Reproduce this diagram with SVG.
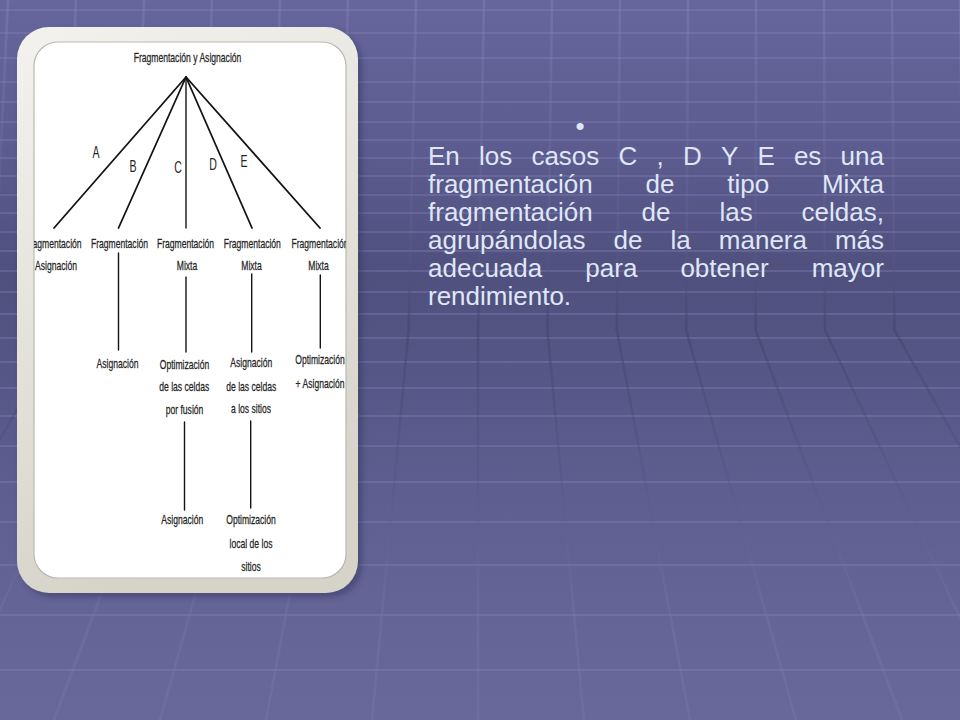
<svg xmlns="http://www.w3.org/2000/svg" width="960" height="720" viewBox="0 0 960 720">
<style>
.hl{stroke:#8a8ac2;stroke-opacity:0.3;stroke-width:2;fill:none}
.vl{stroke:url(#vg);stroke-width:2.6;fill:none}
.dg{font-family:"Liberation Sans",Arial,sans-serif;font-size:13px;fill:#242424;stroke:#242424;stroke-width:0.25;text-anchor:middle}
.lt{font-family:"Liberation Sans",Arial,sans-serif;font-size:16px;fill:#242424;text-anchor:middle}
.ed{stroke:#141414;fill:none;stroke-linecap:round}
.dia{stroke-width:1.8}
.ver{stroke-width:1.4}
.body{font-family:"Liberation Sans",Arial,sans-serif;font-size:26px;fill:#dfe7f7}
</style>
<defs>
<linearGradient id="bg" x1="0" y1="0" x2="0" y2="1">
<stop offset="0" stop-color="#66669d"/>
<stop offset="0.2" stop-color="#5c5c90"/>
<stop offset="0.38" stop-color="#50507e"/>
<stop offset="0.55" stop-color="#585888"/>
<stop offset="0.8" stop-color="#636396"/>
<stop offset="1" stop-color="#68689a"/>
</linearGradient>
<linearGradient id="vg" gradientUnits="userSpaceOnUse" x1="0" y1="0" x2="0" y2="720">
<stop offset="0" stop-color="#8686bd" stop-opacity="0.4"/>
<stop offset="0.3" stop-color="#6a6a9e" stop-opacity="0.25"/>
<stop offset="0.45" stop-color="#3e3e68" stop-opacity="0.45"/>
<stop offset="0.65" stop-color="#4e4e80" stop-opacity="0.3"/>
<stop offset="0.85" stop-color="#7a7ab0" stop-opacity="0.3"/>
<stop offset="1" stop-color="#7a7ab0" stop-opacity="0.35"/>
</linearGradient>
<linearGradient id="fg" x1="0" y1="0" x2="0.3" y2="1">
<stop offset="0" stop-color="#f3f2ee"/>
<stop offset="1" stop-color="#d6d4c9"/>
</linearGradient>
<filter id="sh" x="-10%" y="-10%" width="120%" height="120%">
<feGaussianBlur stdDeviation="3"/>
</filter>
<clipPath id="clip">
<rect x="34" y="42" width="312" height="536" rx="24"/>
</clipPath>
</defs>

<rect width="960" height="720" fill="url(#bg)"/>
<g id="grid">
<path class="hl" d="M0 10H960M0 33H960M0 58H960M0 82H960M0 102H960M0 122H960M0 140H960M0 158H960M0 176H960M0 195H960M0 213H960M0 232H960M0 251H960M0 271H960M0 292H960M0 314H960M0 338H960M0 362H960M0 388H960M0 416H960M0 446H960M0 482H960M0 522H960M0 565H960M0 615H960M0 670H960"/>
<path class="vl" d="M8 0L-7.8 330L-264 720M76 0L61.6 330L-158 720M144 0L131 330L-52 720M212 0L200.4 330L54 720M280 0L269.8 330L160 720M348 0L339.2 330L266 720M416 0L408.6 330L372 720M484 0L478 330L478 720M552 0L547.4 330L584 720M620 0L616.8 330L690 720M688 0L686.2 330L796 720M756 0L755.6 330L902 720M824 0L825 330L1008 720M892 0L894.4 330L1114 720M960 0L963.8 330L1220 720"/>
</g>

<g id="frame">
<rect x="21" y="31" width="341" height="566" rx="32" fill="#2e2e55" opacity="0.45" filter="url(#sh)"/>
<rect x="17" y="27" width="341" height="566" rx="32" fill="url(#fg)"/>
<rect x="34" y="42" width="312" height="536" rx="24" fill="#ffffff" stroke="#b9b9b2" stroke-width="1.2"/>
</g>

<g id="diagram" clip-path="url(#clip)">
<g id="connectors">
<path class="ed dia" d="M186 77L54 228"/>
<path class="ed dia" d="M186 77L118.5 228"/>
<path class="ed ver" d="M186 77L186 228"/>
<path class="ed dia" d="M186 77L252 228"/>
<path class="ed dia" d="M186 77L320 228"/>
<path class="ed ver" d="M118.5 253V350"/>
<path class="ed ver" d="M186 277V352"/>
<path class="ed ver" d="M251.7 274V352"/>
<path class="ed ver" d="M320.3 275V348"/>
<path class="ed ver" d="M184.5 422V510"/>
<path class="ed ver" d="M250.7 421V508"/>
</g>
<g id="root"><text class="dg" transform="translate(187.5,62) scale(0.66,1)">Fragmentación y Asignación</text></g>
<g id="edge-labels">
<text class="lt" transform="translate(96,158) scale(0.66,1)">A</text>
<text class="lt" transform="translate(133,172) scale(0.66,1)">B</text>
<text class="lt" transform="translate(178,173) scale(0.66,1)">C</text>
<text class="lt" transform="translate(213,170) scale(0.66,1)">D</text>
<text class="lt" transform="translate(244,167) scale(0.66,1)">E</text>
</g>
<g id="nA">
<text class="dg" transform="translate(53,248) scale(0.66,1)">Fragmentación</text>
<text class="dg" transform="translate(52.6,270) scale(0.66,1)">+ Asignación</text>
</g>
<g id="nB">
<text class="dg" transform="translate(119.5,248) scale(0.66,1)">Fragmentación</text>
</g>
<g id="nC">
<text class="dg" transform="translate(185.5,248) scale(0.66,1)">Fragmentación</text>
<text class="dg" transform="translate(187,270) scale(0.66,1)">Mixta</text>
</g>
<g id="nD">
<text class="dg" transform="translate(252.3,248) scale(0.66,1)">Fragmentación</text>
<text class="dg" transform="translate(251.5,270) scale(0.66,1)">Mixta</text>
</g>
<g id="nE">
<text class="dg" transform="translate(320,248) scale(0.66,1)">Fragmentación</text>
<text class="dg" transform="translate(318.5,270) scale(0.66,1)">Mixta</text>
</g>
<g id="nB2">
<text class="dg" transform="translate(117.5,368) scale(0.66,1)">Asignación</text>
</g>
<g id="nC2">
<text class="dg" transform="translate(184.5,369) scale(0.66,1)">Optimización</text>
<text class="dg" transform="translate(184.3,391) scale(0.66,1)">de las celdas</text>
<text class="dg" transform="translate(184.5,414) scale(0.66,1)">por fusión</text>
</g>
<g id="nD2">
<text class="dg" transform="translate(251.2,367) scale(0.66,1)">Asignación</text>
<text class="dg" transform="translate(251.3,391) scale(0.66,1)">de las celdas</text>
<text class="dg" transform="translate(251,413) scale(0.66,1)">a los sitios</text>
</g>
<g id="nE2">
<text class="dg" transform="translate(320,364) scale(0.66,1)">Optimización</text>
<text class="dg" transform="translate(320,388) scale(0.66,1)">+ Asignación</text>
</g>
<g id="nC3">
<text class="dg" transform="translate(182.3,524) scale(0.66,1)">Asignación</text>
</g>
<g id="nD3">
<text class="dg" transform="translate(251,524) scale(0.66,1)">Optimización</text>
<text class="dg" transform="translate(251,548) scale(0.66,1)">local de los</text>
<text class="dg" transform="translate(251,571) scale(0.66,1)">sitios</text>
</g>
</g>

<g id="text-block">
<text class="body" x="580" y="135" text-anchor="middle" font-size="24">•</text>
<text class="body" y="165"><tspan x="428">En</tspan><tspan x="479">los</tspan><tspan x="531.4">casos</tspan><tspan x="618.5">C</tspan><tspan x="656.5">,</tspan><tspan x="682.9">D</tspan><tspan x="720.9">Y</tspan><tspan x="757.4">E</tspan><tspan x="793.9">es</tspan><tspan x="840.6">una</tspan></text>
<text class="body" y="193"><tspan x="428">fragmentación</tspan><tspan x="645.5">de</tspan><tspan x="727.2">tipo</tspan><tspan x="821.9">Mixta</tspan></text>
<text class="body" y="221"><tspan x="428">fragmentación</tspan><tspan x="641.6">de</tspan><tspan x="719.4">las</tspan><tspan x="801.5">celdas,</tspan></text>
<text class="body" y="249"><tspan x="428">agrupándolas</tspan><tspan x="613.6">de</tspan><tspan x="670.5">la</tspan><tspan x="718.8">manera</tspan><tspan x="834.9">más</tspan></text>
<text class="body" y="277"><tspan x="428">adecuada</tspan><tspan x="585.3">para</tspan><tspan x="680.4">obtener</tspan><tspan x="811.7">mayor</tspan></text>
<text class="body" x="428" y="305">rendimiento.</text>
</g>
</svg>
